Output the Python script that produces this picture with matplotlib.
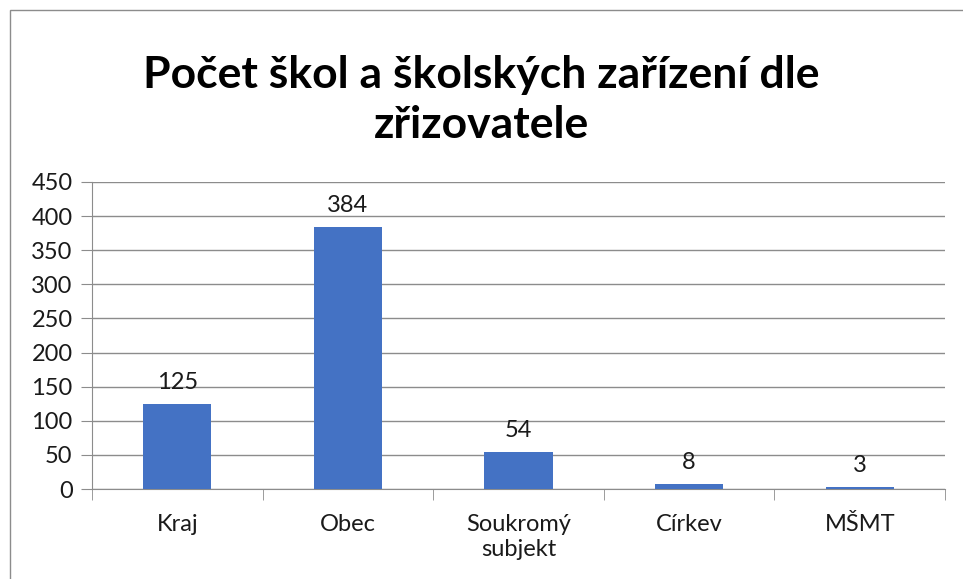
import matplotlib.pyplot as plt
from matplotlib.patches import Rectangle

categories = ["Kraj", "Obec", "Soukromý\nsubjekt", "Církev", "MŠMT"]
values = [125, 384, 54, 8, 3]
yticks = [0, 50, 100, 150, 200, 250, 300, 350, 400, 450]

plt.rcParams['font.family'] = ['Lato', 'DejaVu Sans']

fig = plt.figure(figsize=(9.63, 5.79), dpi=100)
# outer chart border (runs off right and bottom edges)
fig.patches.append(Rectangle((10 / 963, -0.1), 2, 1.1 - 10 / 579, transform=fig.transFigure,
                             fill=False, edgecolor='#8c8c8c', linewidth=1.0))

ax = fig.add_axes([92 / 963, 1 - 489 / 579, (945 - 92) / 963, (489 - 182) / 579])
x = list(range(len(categories)))
ax.bar(x, values, width=0.4, color='#4472c4', zorder=3)
for xi, v in zip(x, values):
    ax.text(xi, v + 16, str(v), ha='center', va='bottom', fontsize=17, color='#1a1a1a')

ax.set_xlim(-0.5, len(categories) - 0.5)
ax.set_ylim(0, 450)
ax.set_yticks(yticks)
ax.set_xticks(x)
ax.set_xticklabels(categories, fontsize=17, color='#1a1a1a', linespacing=1.25)
ax.tick_params(axis='x', length=0, pad=18)
ax.set_xticks([i - 0.5 for i in range(len(categories) + 1)], minor=True)
ax.tick_params(axis='x', which='minor', length=8, color='#8c8c8c', direction='out')
ax.tick_params(axis='y', length=8, color='#8c8c8c', labelsize=17, labelcolor='#1a1a1a', pad=6)
ax.grid(axis='y', color='#8c8c8c', linewidth=1.0, zorder=0)
for s in ['top', 'right']:
    ax.spines[s].set_visible(False)
ax.spines['left'].set_color('#8c8c8c')
ax.spines['bottom'].set_color('#8c8c8c')

fig.text(0.5, 1 - 100 / 579, "Počet škol a školských zařízení dle\nzřizovatele",
         ha='center', va='center', fontsize=32, fontweight='bold', linespacing=1.28)

fig.savefig("out.png", dpi=100)
